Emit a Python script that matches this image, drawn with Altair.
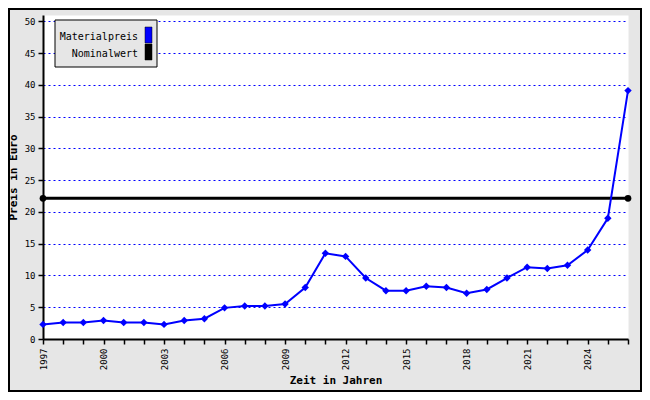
import altair as alt
import pandas as pd

years = list(range(1997, 2027))
prices = [2.3, 2.6, 2.6, 2.9, 2.6, 2.6, 2.3, 2.9, 3.2, 4.9,
          5.2, 5.2, 5.5, 8.1, 13.5, 13.0, 9.6, 7.6, 7.6, 8.3,
          8.1, 7.2, 7.8, 9.6, 11.3, 11.1, 11.6, 14.0, 19.0, 39.1]
nominal_years = [1997, 2026]
nominal_values = [22.15, 22.15]
legend_labels = ["Materialpreis", "Nominalwert"]
legend_colors = ["#0000ff", "#000000"]
y_ticks = list(range(0, 55, 5))

W, H = 585, 324
PAD = {"left": 35, "top": 7, "right": 14, "bottom": 53}
FONT = "DejaVu Sans Mono"

df = pd.DataFrame({"year": years, "price": prices})
dn = pd.DataFrame({"year": nominal_years, "price": nominal_values})

xscale = alt.Scale(domain=[1997, 2026], nice=False, zero=False)
yscale = alt.Scale(domain=[0, 51], nice=False)

xaxis = alt.Axis(values=years, format="d", labelOverlap=False,
                 labelExpr="(datum.value - 1997) % 3 == 0 ? datum.label : ''",
                 labelAngle=-90, labelPadding=4, grid=False,
                 title="Zeit in Jahren", titleY=41, titleBaseline="middle")
yaxis = alt.Axis(values=y_ticks, grid=True, gridColor="#0000ff", labelOverlap=False,
                 gridDash=[2, 3], gridWidth=1, labelPadding=3,
                 title="Preis in Euro", titleX=-30, titleBaseline="middle")

nominal = alt.Chart(dn).mark_line(
    color="black", strokeWidth=3,
    point=alt.OverlayMarkDef(shape="circle", filled=True, size=45, color="black")
).encode(
    x=alt.X("year:Q", scale=xscale, axis=xaxis),
    y=alt.Y("price:Q", scale=yscale, axis=yaxis),
)

material = alt.Chart(df).mark_line(
    color="#0000ff", strokeWidth=2,
    point=alt.OverlayMarkDef(shape="diamond", filled=True, size=55, color="#0000ff")
).encode(
    x=alt.X("year:Q", scale=xscale, axis=xaxis),
    y=alt.Y("price:Q", scale=yscale, axis=yaxis),
)

one = pd.DataFrame({"a": [0]})

legend_box = alt.Chart(one).mark_rect(
    fill="#e6e6e6", stroke="black", strokeWidth=1
).encode(x=alt.value(12), x2=alt.value(114), y=alt.value(5), y2=alt.value(52))

ld = pd.DataFrame({"label": legend_labels, "color": legend_colors,
                   "ty": [22, 39], "y1": [12, 29], "y2": [28, 45]})
legend_text = alt.Chart(ld).mark_text(
    align="right", baseline="middle", font=FONT, fontSize=10, fill="black"
).encode(x=alt.value(95), y=alt.Y("ty:Q", scale=None), text="label:N")
legend_sw = alt.Chart(ld).mark_rect(stroke="black", strokeWidth=0.5).encode(
    x=alt.value(102), x2=alt.value(109),
    y=alt.Y("y1:Q", scale=None), y2=alt.Y2("y2:Q"),
    color=alt.Color("color:N", scale=None),
)

border = alt.Chart(one).mark_rect(
    fillOpacity=0, stroke="black", strokeWidth=2
).encode(x=alt.value(-PAD["left"] + 1), x2=alt.value(W + PAD["right"] - 1),
         y=alt.value(-PAD["top"] + 1), y2=alt.value(H + PAD["bottom"] - 1))

chart = alt.layer(nominal, material, legend_box, legend_text, legend_sw, border).properties(
    width=W, height=H, padding=PAD,
    autosize=alt.AutoSizeParams(type="none"),
    background="#e6e6e6",
).configure_view(
    fill="white", stroke="transparent"
).configure_axis(
    domainColor="black", domainWidth=2, tickColor="black", tickWidth=1.5, tickSize=5,
    labelFont=FONT, labelFontSize=9, labelColor="black",
    titleFont=FONT, titleFontSize=11, titleFontWeight="bold", titleColor="black",
)

chart.save("out.html", embed_options={"renderer": "svg", "actions": False})
